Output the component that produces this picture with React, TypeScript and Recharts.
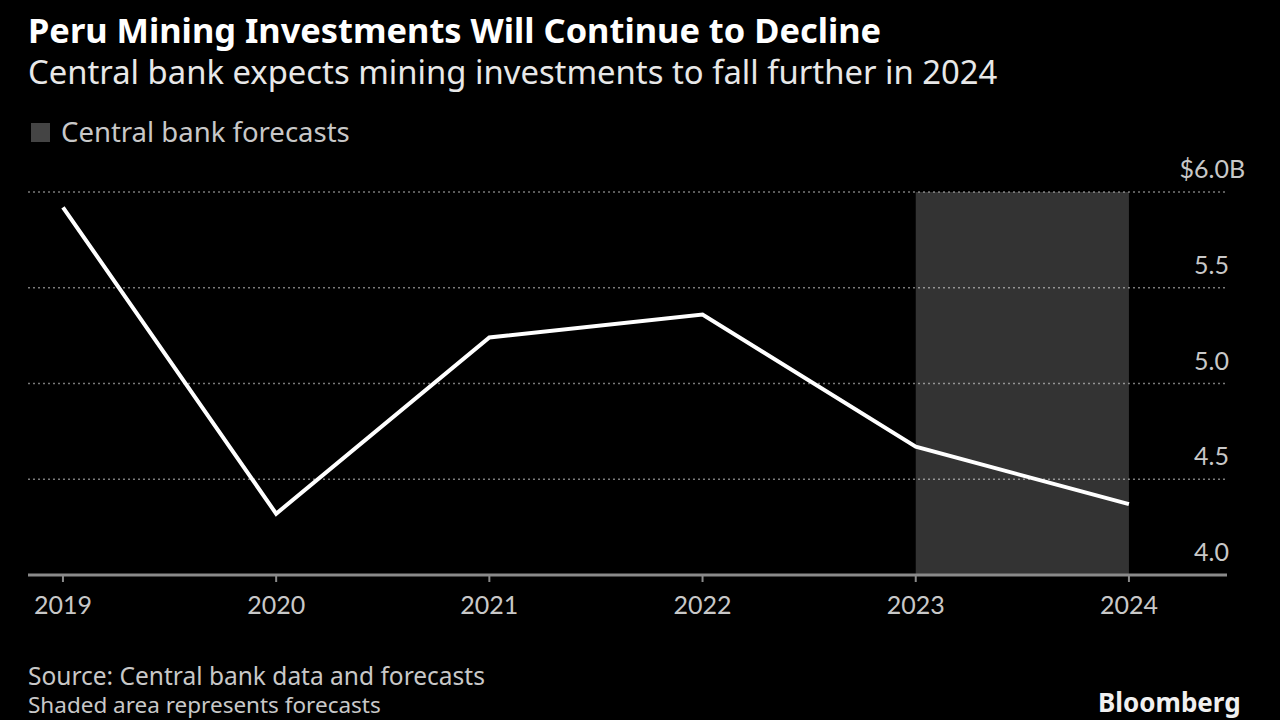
import React from "react";
import { LineChart, Line, XAxis, YAxis, CartesianGrid, ReferenceArea } from "recharts";

const years = [2019, 2020, 2021, 2022, 2023, 2024];
const investment = [5.92, 4.32, 5.24, 5.36, 4.67, 4.37];
const yTicks = [4, 4.5, 5, 5.5, 6];
const forecastStart = 2023;
const forecastEnd = 2024;

const rows = years.map((year, i) => ({ year, value: investment[i] }));

const FONT = "Lato, 'Noto Sans', sans-serif";
const TEXT_FONT = "'Noto Sans', Lato, sans-serif";
const LABEL = "#c8c8c8";

function YTick(props: any) {
  const { y, payload } = props;
  const v: number = payload.value;
  const label = v.toFixed(1);
  const top = v === 6;
  return (
    <g>
      <text x={1229} y={y - 14} textAnchor="end" fill={LABEL} fontSize={25} fontFamily={FONT}>
        {top ? "$" + label : label}
      </text>
      {top && (
        <text x={1229} y={y - 14} textAnchor="start" fill={LABEL} fontSize={25} fontFamily={FONT}>
          B
        </text>
      )}
    </g>
  );
}

function XTick(props: any) {
  const { x, y, payload } = props;
  return (
    <text x={x} y={y + 30} textAnchor="middle" fill={LABEL} fontSize={25} fontFamily={FONT}>
      {payload.value}
    </text>
  );
}

export default function App() {
  return (
    <div style={{ position: "absolute", left: 0, top: 0, width: 1280, height: 720, background: "#000", overflow: "hidden", fontFamily: TEXT_FONT }}>
      <div style={{ position: "absolute", left: 28, top: 8, fontSize: 34.4, fontWeight: 700, color: "#fff", whiteSpace: "nowrap", lineHeight: "44px" }}>
        Peru Mining Investments Will Continue to Decline
      </div>
      <div style={{ position: "absolute", left: 28, top: 51, fontSize: 32.8, color: "#e8e8e8", whiteSpace: "nowrap", lineHeight: "42px" }}>
        Central bank expects mining investments to fall further in 2024
      </div>
      <div style={{ position: "absolute", left: 31, top: 114, display: "flex", alignItems: "center", color: LABEL, fontSize: 27.5, whiteSpace: "nowrap", lineHeight: "36px" }}>
        <span style={{ display: "inline-block", width: 19, height: 19, background: "#444", marginRight: 11 }} />
        Central bank forecasts
      </div>

      <div style={{ position: "absolute", left: 0, top: 0 }}>
        <LineChart width={1280} height={720} data={rows} margin={{ top: 192, right: 52, left: 28, bottom: 95 }}>
          <CartesianGrid vertical={false} stroke="#7a7a7a" strokeWidth={1.5} strokeDasharray="2 3" />
          <ReferenceArea x1={forecastStart} x2={forecastEnd} y1={4} y2={6} fill="#ffffff" fillOpacity={0.2} stroke="none" />
          <XAxis
            dataKey="year"
            type="number"
            domain={[2018.836, 2024.46]}
            ticks={years}
            allowDataOverflow
            axisLine={{ stroke: "#8a8a8a", strokeWidth: 3 }}
            tickLine={{ stroke: "#8a8a8a", strokeWidth: 2 }}
            tickSize={7}
            height={50}
            tick={<XTick />}
          />
          <YAxis
            orientation="right"
            domain={[4, 6]}
            ticks={yTicks}
            width={1}
            axisLine={false}
            tickLine={false}
            tick={<YTick />}
          />
          <Line type="linear" dataKey="value" stroke="#ffffff" strokeWidth={4} dot={false} isAnimationActive={false} />
        </LineChart>
      </div>

      <div style={{ position: "absolute", left: 28, top: 661, fontSize: 24.5, color: LABEL, lineHeight: "29px", whiteSpace: "nowrap" }}>
        Source: Central bank data and forecasts
      </div>
      <div style={{ position: "absolute", left: 28, top: 690, fontSize: 22.5, color: LABEL, lineHeight: "29px", whiteSpace: "nowrap" }}>
        Shaded area represents forecasts
      </div>
      <div style={{ position: "absolute", left: 1098, top: 686, fontSize: 26, fontWeight: 700, color: "#f0f0f0", whiteSpace: "nowrap", lineHeight: "32px" }}>
        Bloomberg
      </div>
    </div>
  );
}
